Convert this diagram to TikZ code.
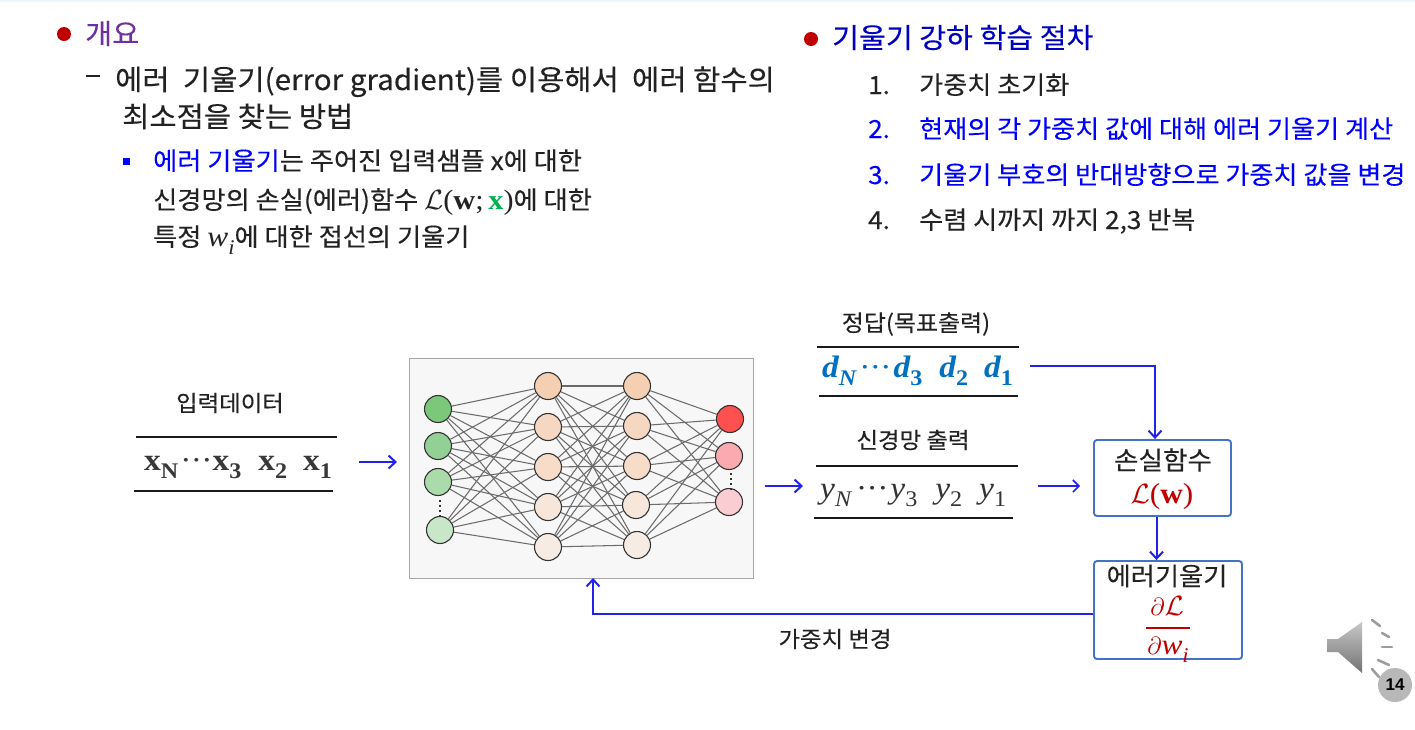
\documentclass[tikz,border=0pt]{standalone}
\usepackage{fontspec}
\usepackage{amsmath}
\usepackage{graphicx}
\usetikzlibrary{arrows.meta,calc}
\setmainfont[FakeStretch=1.05,FakeBold=0.2]{Noto Sans CJK KR}
\newfontfamily\numfont{Liberation Sans}
\newfontfamily\cam[FakeStretch=1.08]{Liberation Serif}
\newcommand{\fs}[1]{\fontsize{#1}{#1}\selectfont}
% math-like letters in a serif close to the original's
\newcommand{\mi}[1]{{\cam\itshape #1}}
\newcommand{\mb}[1]{{\cam\bfseries #1}}
\newcommand{\sbs}[1]{\raisebox{-0.28em}{\scalebox{0.72}{#1}}}
\newcommand{\scrL}{\scalebox{1.12}{$\mathcal{L}$}}
\newcommand{\cds}{{\upshape\mdseries\cam ·\kern-0.6pt·\kern-0.6pt·}}
\definecolor{headpurple}{HTML}{7030A0}
\definecolor{bulred}{HTML}{C00000}
\definecolor{bblue}{HTML}{0000FF}
\definecolor{arrblue}{HTML}{2222EE}
\definecolor{boxblue}{HTML}{4472C4}
\definecolor{dblue}{HTML}{0070C0}
\definecolor{eqgreen}{HTML}{00B050}
\definecolor{txt}{HTML}{222222}
\tikzset{
  x=1pt,y=-1pt,
  txtnode/.style={anchor=base west,inner sep=0pt,text=txt},
  lab/.style={anchor=center,inner sep=0pt,text=txt,font=\fs{22.3}},
  mainline/.style={txtnode,font=\fs{28.2}},
  subline/.style={txtnode,font=\fs{25}},
  rightline/.style={txtnode,font=\fs{24.9}},
  rule/.style={line width=1.8pt,draw=black!90},
  flow/.style={draw=arrblue,line width=2pt,-{Straight Barb[length=7pt,width=13pt,line width=2pt]}},
  neuron/.style={circle,draw=black!80,line width=1.1pt,minimum size=27pt,inner sep=0pt},
  lossbox/.style={draw=boxblue,line width=1.9pt,rounded corners=3pt,inner sep=0pt,fill=white},
  syn/.style={draw=black!58,line width=1.05pt},
  ray/.style={draw=black!38,line width=2.6pt,line cap=round},
}
\begin{document}
\begin{tikzpicture}
\useasboundingbox (0,0) rectangle (1415,729);
\fill[white] (0,0) rectangle (1415,729);
\fill[blue!30!cyan!8] (0,0) rectangle (1415,1.5);

% left text
\node[circle,fill=bulred,minimum size=14pt,inner sep=0pt] (b1) at (64,34) {};
\node[txtnode,text=headpurple,font=\fs{28}] (h1) at (85,44) {개요};
\node[fill=txt,minimum width=14pt,minimum height=1.6pt,inner sep=0pt] (dash) at (93,76) {};
\node[mainline] (l1) at (115,90) {에러\ \ 기울기(error gradient)를 이용해서\ \ 에러 함수의};
\node[mainline] (l2) at (122,127) {최소점을 찾는 방법};
\node[fill=bblue,minimum size=7pt,inner sep=0pt] (b2) at (126,161) {};
\node[subline] (s1) at (153,170) {\textcolor{bblue}{에러 기울기}는 주어진 입력샘플 x에 대한};
\node[subline] (s2) at (153,209) {신경망의 손실(에러)함수 {\fs{28}\scrL{\cam(}\mb{w}{\cam;\,}\textcolor{eqgreen}{\mb{x}}{\cam)}}에 대한};
\node[subline] (s3) at (153,246) {특정 {\fs{29}\mi{w}\sbs{\mi{i}}}에 대한 접선의 기울기};

% right text
\node[circle,fill=bulred,minimum size=14pt,inner sep=0pt] (b3) at (811,39) {};
\node[txtnode,text=bblue!75!black,font=\fs{27.8}] (h2) at (832,48) {기울기 강하 학습 절차};
\node[rightline] (n1) at (868,94) {1.};
\node[rightline] (t1) at (919,94) {가중치 초기화};
\node[rightline,text=bblue] (n2) at (868,138) {2.};
\node[rightline,text=bblue] (t2) at (919,138) {현재의 각 가중치 값에 대해 에러 기울기 계산};
\node[rightline,text=bblue] (n3) at (868,184) {3.};
\node[rightline,text=bblue] (t3) at (919,184) {기울기 부호의 반대방향으로 가중치 값을 변경};
\node[rightline] (n4) at (868,229) {4.};
\node[rightline] (t4) at (919,229) {수렴 시까지 까지 2,3 반복};

% network panel
\node[draw=black!35,line width=1pt,fill=black!3,minimum width=344pt,minimum height=220pt,inner sep=0pt] (panel) at (581,468) {};
\foreach \n/\x/\y/\c in {a1/438/409/7BC87B,a2/438/446/92D096,a3/438/482/ABDAAB,a4/440/530/C8E6C8,
  b1x/548/386/F5CFB2,b2x/548/427/F6D8C2,b3x/548/467/F6DCC9,b4x/548/507/F6E7DA,b5x/548/547/F6ECE3,
  c1/637/386/F5CFB2,c2/637/426/F6D8C2,c3/637/466/F6DCC9,c4/636/505/F6E7DA,c5/637/545/F6ECE3,
  o1/730/419/FF5050,o2/729/456/FBABAF,o3/729/502/F9CDD1}{
  \definecolor{tmpc}{HTML}{\c}
  \node[neuron,fill=tmpc] (\n) at (\x,\y) {};
}
\foreach \p in {a1,a2,a3,a4}{\foreach \q in {b1x,b2x,b3x,b4x,b5x}{\draw[syn] (\p) -- (\q);}}
\foreach \p in {b1x,b2x,b3x,b4x,b5x}{\foreach \q in {c1,c2,c3,c4,c5}{\draw[syn] (\p) -- (\q);}}
\foreach \p in {c1,c2,c3,c4,c5}{\foreach \q in {o1,o2,o3}{\draw[syn] (\p) -- (\q);}}
\foreach \x/\y in {439.5/501,439.5/506,439.5/511,439.5/516,730.5/474,730.5/479,730.5/484,730.5/489}{
  \fill[black!80] (\x-1,\y-1) rectangle (\x+1,\y+1);
}

% input data
\node[lab] (inlab) at (230,403) {입력데이터};
\draw[rule] (136,437) -- (337,437);
\draw[rule] (134,491) -- (333,491);
\node[anchor=base west,inner sep=0pt,text=black!78,font=\cam\bfseries\fs{31}] (xs) at (144,470)
  {x\sbs{N}\hspace{2pt}\cds\hspace{0pt}x\sbs{3}\hspace{17pt}x\sbs{2}\hspace{16pt}x\sbs{1}};

% targets
\node[lab,font=\fs{22.8}] (dlab) at (916,324) {정답(목표출력)};
\draw[rule] (817,347) -- (1019,347);
\draw[rule] (819,396) -- (1018,396);
\node[anchor=base west,inner sep=0pt,text=dblue,font=\cam\bfseries\itshape\fs{31}] (ds) at (822,377)
  {d\sbs{N}\hspace{3pt}\cds\hspace{2pt}d\sbs{\upshape 3}\hspace{17pt}d\sbs{\upshape 2}\hspace{16pt}d\sbs{\upshape 1}};

% outputs
\node[lab] (ylab) at (913,440) {신경망 출력};
\draw[rule] (816,466) -- (1018,466);
\draw[rule] (814,518) -- (1013,518);
\node[anchor=base west,inner sep=0pt,text=black!80,font=\cam\itshape\fs{31}] (ys) at (820,498)
  {y\sbs{N}\hspace{5pt}\cds\hspace{2pt}y\sbs{\upshape 3}\hspace{18pt}y\sbs{\upshape 2}\hspace{17pt}y\sbs{\upshape 1}};

% boxes
\node[lossbox,minimum width=137pt,minimum height=76pt] (loss) at (1162.5,478) {};
\node[lab,font=\fs{25.3}] (losst) at (1163,460) {손실함수};
\node[anchor=base,inner sep=0pt,text=bulred,font=\cam\fs{29}] (lossf) at (1162,503) {\scrL(\textbf{w})};
\node[lossbox,minimum width=148pt,minimum height=98pt] (err) at (1168,610) {};
\node[lab,font=\fs{25}] (errt) at (1167,576) {에러기울기};
\node[anchor=base,inner sep=0pt,text=bulred,font=\cam\fs{29}] (errn) at (1167,615) {$\partial$\scrL};
\draw[bulred,line width=1.3pt] (1146,628) -- (1190,628);
\node[anchor=base,inner sep=0pt,text=bulred,font=\cam\fs{29}] (errd) at (1168,654) {$\partial$\mi{w}\sbs{\mi{i}}};

% connectors
\coordinate (in1) at (359,462); \coordinate (in2) at (397,462);
\coordinate (ne1) at (765,486); \coordinate (ne2) at (803,486);
\coordinate (yo1) at (1038,486); \coordinate (yo2) at (1080,486);
\coordinate (do1) at (1030,366); \coordinate (do2) at (1155,366);
\draw[flow,line width=2.4pt] (in1) -- (in2);
\draw[flow,line width=2.4pt] (ne1) -- (ne2);
\draw[flow,line width=1.6pt,-{Straight Barb[length=6pt,width=12pt,line width=1.6pt]}] (yo1) -- (yo2);
\draw[flow] (do1) -- (do2) -- (do2 |- loss.north);
\draw[flow] ([xshift=-6pt]loss.south) -- ([xshift=-6pt]loss.south |- err.north);
\draw[flow] (err.west |- 0,614) -| (593,578);
\node[lab] (chg) at (835,639) {가중치 변경};

% speaker
\shade[top color=black!22,bottom color=black!55,draw=none] (1327,639) -- (1338,639) -- (1362,622) -- (1362,673) -- (1338,652) -- (1327,652) -- cycle;
\draw[ray] (1372,620) -- (1380,626);
\draw[ray] (1382,633) -- (1389,637);
\draw[ray] (1382,647) -- (1392,647);
\draw[ray] (1378,660) -- (1389,665);
\draw[ray] (1372,669) -- (1379,677);
\node[circle,fill=black!28,minimum size=34pt,inner sep=0pt,text=black,font=\numfont\bfseries\fs{17}] (page) at (1395,685) {14};
\end{tikzpicture}
\end{document}
